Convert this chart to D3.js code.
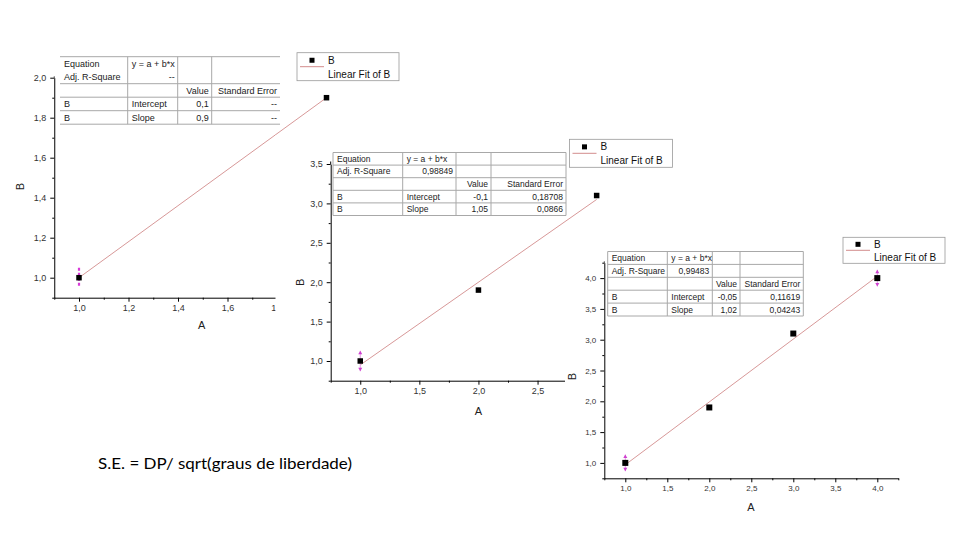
<!DOCTYPE html>
<html><head><meta http-equiv="Content-Type" content="text/html; charset=UTF-8">
<script src="https://d3js.org/d3.v7.min.js"></script>
<style>
  body { margin: 0; background: #fff; }
  svg text { font-family: "Liberation Sans", Arial, sans-serif; }
</style>
</head>
<body>
<div id="body"></div>
<script type="text/javascript">

var w = 960,
    h = 540;

// columns A and B, and what the three Origin fits reported
var colA = [1, 2, 3, 4];
var colB = [1.0, 1.9, 3.1, 4.0];
var nUsed = [2, 3, 4];
var intercepts = [0.1, -0.1, -0.05];
var slopes = [0.9, 1.05, 1.02];
var adjR2 = ["--", "0,98849", "0,99483"];
var seIntercept = ["--", "0,18708", "0,11619"];
var seSlope = ["--", "0,0866", "0,04243"];
var errIndex = [[0], [0], [0, 3]];
var errSize = [[0.05], [0.13], [0.135, 0.135]];
var xDomains = [[0.9, 2.1], [0.75, 3.25], [0.75, 4.25]];
var yDomains = [[0.9, 2.0], [0.75, 3.5], [0.75, 4.25]];
var majorStep = [0.2, 0.5, 0.5];
var minorStep = [0.1, 0.25, 0.25];
var legendLabels = ["B", "Linear Fit of B"];
var tableHead = ["Equation", "y = a + b*x", "Adj. R-Square", "Value", "Standard Error", "Intercept", "Slope"];
var axisTitles = ["A", "B"];
var noteText = "S.E. = DP/ sqrt(graus de liberdade)";

// where each pasted graph sits on the slide
var layouts = [
  { bg: null, xr: [54.25, 351.25], yr: [297.7, 77.7], yTop: 76.5, fs: 9, ms: 5.5, err: "dash",
    tcols: [60, 127.7, 177.7, 211.7, 280], ttop: 56.7, trh: 13.5, tfs: 9, tbox: false,
    leg: { x: 297, y: 52.7, w: 102, h: 28 }, aPos: [201.7, 329], bPos: [24, 186.7] },
  { bg: [275.5, 135, 397, 290], xr: [330.7, 626.2], yr: [380.7, 164], yTop: 161.5, fs: 9, ms: 5.5, err: "arrow",
    tcols: [333, 402.7, 456, 491, 566], ttop: 152.5, trh: 12.6, tfs: 8.5, tbox: true,
    leg: { x: 569.5, y: 139.3, w: 103, h: 28 }, aPos: [478.3, 414.5], bPos: [304, 282.3] },
  { bg: [565, 232, 395, 300], xr: [604.3, 898.3], yr: [478.3, 262.7], yTop: 261.5, fs: 8, ms: 6, err: "tri",
    tcols: [607.7, 667.3, 712.3, 740, 803.3], ttop: 251.5, trh: 12.9, tfs: 8.5, tbox: true,
    leg: { x: 843, y: 237.3, w: 102, h: 26 }, aPos: [751, 510.5], bPos: [576, 376.7] }
];

var locale = d3.formatLocale({ decimal: ",", thousands: ".", grouping: [3], currency: ["", ""], minus: "-" });
var fmt1 = locale.format(".1f");

function steps(a, b, s) {
  var out = [];
  for (var i = 0; a + i * s <= b + 1e-9; i++) out.push(Math.round((a + i * s) * 1e6) / 1e6);
  return out;
}
function comma(v) { return String(v).replace(".", ","); }

var svg = d3.select("#body").append("svg")
    .attr("width", w)
    .attr("height", h);
svg.append("rect").attr("width", w).attr("height", h).attr("fill", "#fff");

function drawChart(k) {
  var L = layouts[k];
  var g = svg.append("g");
  if (L.bg) {
    g.append("rect").attr("x", L.bg[0]).attr("y", L.bg[1])
      .attr("width", L.bg[2]).attr("height", L.bg[3]).attr("fill", "#fff");
  }

  var x = d3.scaleLinear().domain(xDomains[k]).range(L.xr);
  var y = d3.scaleLinear().domain(yDomains[k]).range(L.yr);

  var majX = steps(1.0, xDomains[k][1], majorStep[k]);
  var majY = steps(1.0, yDomains[k][1], majorStep[k]);
  var minX = steps(xDomains[k][0], xDomains[k][1], minorStep[k]).filter(function(v) { return majX.indexOf(v) < 0; });
  var minY = steps(yDomains[k][0], yDomains[k][1], minorStep[k]).filter(function(v) { return majY.indexOf(v) < 0; });

  var gx = g.append("g").attr("transform", "translate(0," + L.yr[0] + ")");
  gx.call(d3.axisBottom(x).tickValues(majX).tickFormat(fmt1).tickSize(4).tickSizeOuter(0).tickPadding(3));
  gx.append("g").call(d3.axisBottom(x).tickValues(minX).tickFormat("").tickSize(2).tickSizeOuter(0))
    .select(".domain").remove();

  var gy = g.append("g").attr("transform", "translate(" + L.xr[0] + ",0)");
  gy.call(d3.axisLeft(y).tickValues(majY).tickFormat(fmt1).tickSize(4).tickSizeOuter(0).tickPadding(4));
  gy.append("g").call(d3.axisLeft(y).tickValues(minY).tickFormat("").tickSize(2).tickSizeOuter(0))
    .select(".domain").remove();
  gy.append("line").attr("x1", 0).attr("x2", 0).attr("y1", L.yTop).attr("y2", L.yr[1]).attr("stroke", "#000");

  g.selectAll(".domain, .tick line").attr("stroke", "#000").attr("stroke-width", 1);
  g.selectAll(".tick text").attr("fill", "#333").style("font-size", L.fs + "px")
    .style("font-family", "'Liberation Sans', Arial, sans-serif");

  g.append("text").attr("x", L.aPos[0]).attr("y", L.aPos[1]).attr("text-anchor", "middle")
    .style("font-size", "11px").attr("fill", "#222").text(axisTitles[0]);
  g.append("text").attr("transform", "translate(" + L.bPos[0] + "," + L.bPos[1] + ") rotate(-90)")
    .attr("text-anchor", "middle").style("font-size", "11px").attr("fill", "#222").text(axisTitles[1]);

  // fit line
  var pts = d3.range(nUsed[k]).map(function(i) { return { a: colA[i], b: colB[i] }; });
  var xe = d3.extent(pts, function(d) { return d.a; });
  g.append("path")
    .datum(xe)
    .attr("d", d3.line().x(function(v) { return x(v); }).y(function(v) { return y(intercepts[k] + slopes[k] * v); }))
    .attr("fill", "none").attr("stroke", "#d38c8c").attr("stroke-width", 0.9);

  // error bars
  var errs = errIndex[k].map(function(i, j) { return { a: colA[i], b: colB[i], e: errSize[k][j] }; });
  errs.forEach(function(d) {
    var cx = x(d.a), yt = y(d.b + d.e), yb = y(d.b - d.e);
    if (L.err === "dash") {
      g.append("line").attr("x1", cx).attr("x2", cx).attr("y1", yt).attr("y2", yb)
        .attr("stroke", "#d83ad8").attr("stroke-width", 2.2).attr("stroke-dasharray", "3,2");
    } else {
      g.append("line").attr("x1", cx).attr("x2", cx).attr("y1", yt).attr("y2", yb)
        .attr("stroke", "#e29ae2").attr("stroke-width", 1);
      g.append("path").attr("d", "M" + (cx - 2) + "," + (yt + 3.5) + "L" + (cx + 2) + "," + (yt + 3.5) + "L" + cx + "," + yt + "Z")
        .attr("fill", "#d040d0");
      g.append("path").attr("d", "M" + (cx - 2) + "," + (yb - 3.5) + "L" + (cx + 2) + "," + (yb - 3.5) + "L" + cx + "," + yb + "Z")
        .attr("fill", "#d040d0");
    }
  });

  // points
  g.selectAll(null).data(pts).enter().append("rect")
    .attr("x", function(d) { return x(d.a) - L.ms / 2; })
    .attr("y", function(d) { return y(d.b) - L.ms / 2; })
    .attr("width", L.ms).attr("height", L.ms).attr("fill", "#000");

  // results table
  var c = L.tcols, t0 = L.ttop, rh = L.trh;
  var tg = g.append("g");
  tg.append("rect").attr("x", c[0]).attr("y", t0).attr("width", c[4] - c[0]).attr("height", rh * 5).attr("fill", "#fff");
  var rows = [
    [tableHead[0], tableHead[1], "", ""],
    [tableHead[2], adjR2[k], "", ""],
    ["", "", tableHead[3], tableHead[4]],
    ["B", tableHead[5], comma(intercepts[k]), seIntercept[k]],
    ["B", tableHead[6], comma(slopes[k]), seSlope[k]]
  ];
  var lineCol = "#a8a8a8";
  tg.append("line").attr("x1", c[0]).attr("x2", c[4]).attr("y1", t0).attr("y2", t0).attr("stroke", lineCol);
  for (var r = 1; r <= 5; r++) {
    if (r === 1 && !L.tbox) continue;
    tg.append("line").attr("x1", c[0]).attr("x2", c[4]).attr("y1", t0 + r * rh).attr("y2", t0 + r * rh).attr("stroke", lineCol);
  }
  var vcols = L.tbox ? [0, 1, 2, 3, 4] : [1, 2, 3];
  vcols.forEach(function(ci) {
    tg.append("line").attr("x1", c[ci]).attr("x2", c[ci]).attr("y1", t0).attr("y2", t0 + 5 * rh).attr("stroke", lineCol);
  });
  rows.forEach(function(row, ri) {
    row.forEach(function(txt, ci) {
      if (!txt) return;
      var right = (ri === 1 && ci === 1) || ci >= 2;
      tg.append("text")
        .attr("x", right ? c[ci + 1] - 3 : c[ci] + 4)
        .attr("y", t0 + ri * rh + rh / 2)
        .attr("dy", "0.35em")
        .attr("text-anchor", right ? "end" : "start")
        .style("font-size", L.tfs + "px").attr("fill", "#222")
        .text(txt);
    });
  });

  // legend
  var lg = L.leg;
  g.append("rect").attr("x", lg.x).attr("y", lg.y).attr("width", lg.w).attr("height", lg.h)
    .attr("fill", "#fff").attr("stroke", "#999").attr("stroke-width", 0.8);
  var sx = lg.x + 3, sw = 24;
  g.append("line").attr("x1", sx).attr("x2", sx + sw).attr("y1", lg.y + lg.h * 0.5).attr("y2", lg.y + lg.h * 0.5)
    .attr("stroke", "#d38c8c").attr("stroke-width", 1);
  g.append("rect").attr("x", sx + sw / 2 - 2.5).attr("y", lg.y + lg.h * 0.27 - 2.5)
    .attr("width", 5).attr("height", 5).attr("fill", "#000");
  g.append("text").attr("x", sx + sw + 4).attr("y", lg.y + lg.h * 0.27).attr("dy", "0.35em")
    .style("font-size", "10px").attr("fill", "#111").text(legendLabels[0]);
  g.append("text").attr("x", sx + sw + 4).attr("y", lg.y + lg.h * 0.77).attr("dy", "0.35em")
    .style("font-size", "10px").attr("fill", "#111").text(legendLabels[1]);
}

for (var k = 0; k < layouts.length; k++) drawChart(k);

svg.append("text")
  .attr("x", 98)
  .attr("y", 469)
  .attr("textLength", 254)
  .attr("lengthAdjust", "spacingAndGlyphs")
  .style("font-family", "Lato, 'Open Sans', sans-serif")
  .style("font-size", "16px")
  .attr("fill", "#000")
  .text(noteText);

</script>
</body></html>
